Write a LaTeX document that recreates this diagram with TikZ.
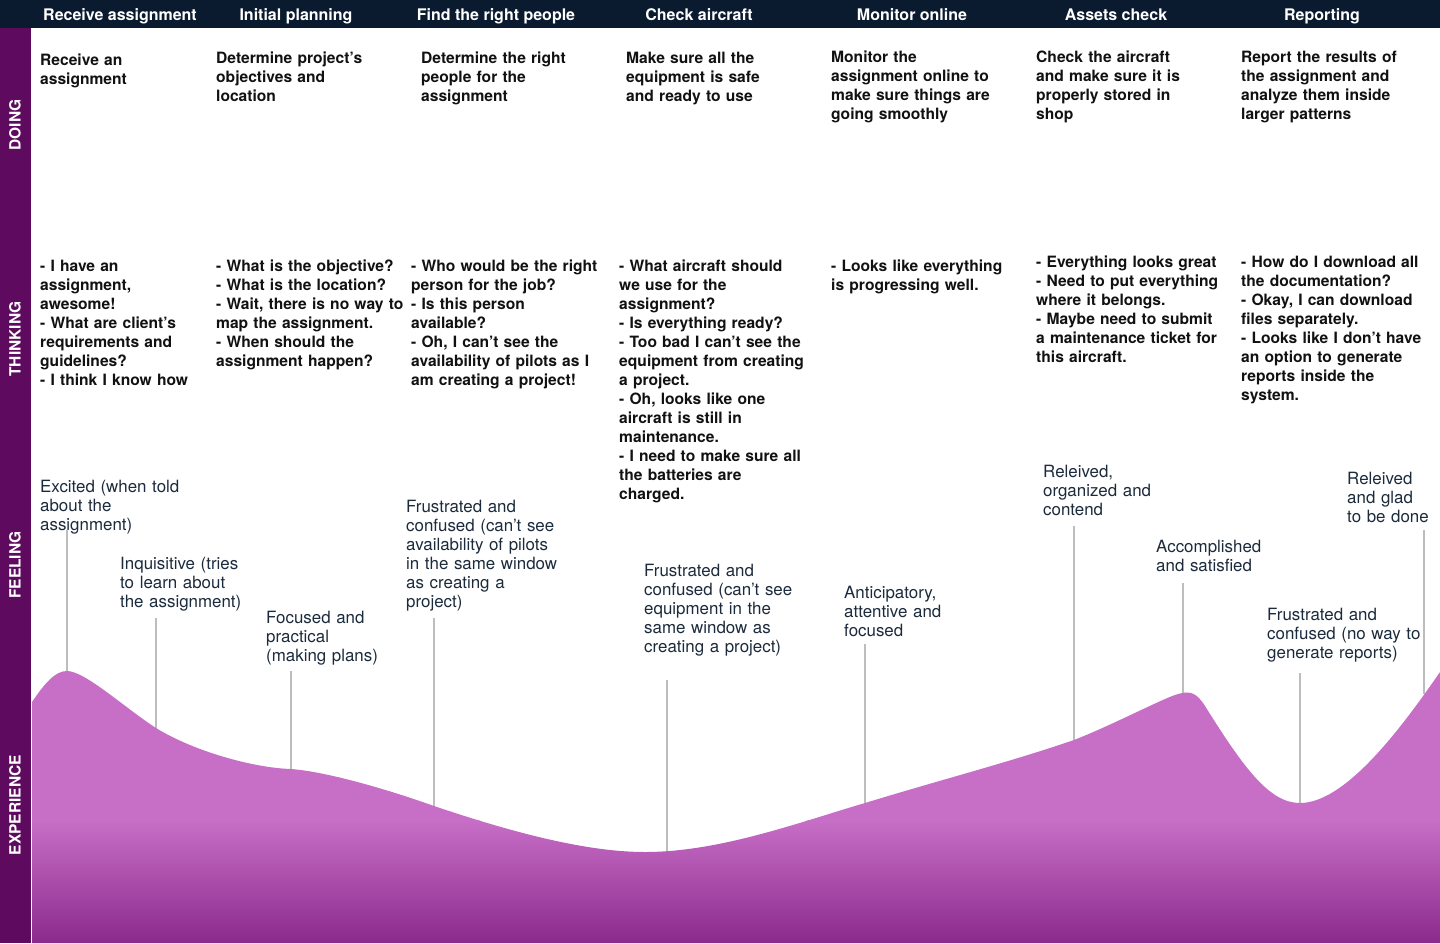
\documentclass[tikz,border=0pt]{standalone}
\usepackage{fontspec}
\setmainfont{TeX Gyre Heros}
\definecolor{hdrbg}{HTML}{0B1B2F}
\definecolor{sidebg}{HTML}{5E0B5F}
\definecolor{curvelight}{HTML}{C76EC6}
\definecolor{curvedark}{HTML}{8B2B8D}
\definecolor{linegray}{HTML}{BDBDBD}
\definecolor{feeltxt}{HTML}{1C2B3C}
\definecolor{bodytxt}{HTML}{111111}
\begin{document}
\begin{tikzpicture}[x=1pt,y=-1pt,
  hdr/.style={text=white,font=\bfseries\fontsize{16}{19}\selectfont,anchor=base,inner sep=0pt},
  side/.style={text=white,font=\bfseries\fontsize{15.5}{18}\selectfont,rotate=90,inner sep=0pt},
  body/.style={anchor=base west,align=left,text width=230pt,inner sep=0pt,text=bodytxt,font=\bfseries\fontsize{15.6}{19}\selectfont},
  feel/.style={anchor=base west,align=left,text width=230pt,inner sep=0pt,text=feeltxt,font=\fontsize{16.9}{19}\selectfont},
  conn/.style={draw=linegray,line width=1.4pt}]
\useasboundingbox (0,0) rectangle (1440,943);
\fill[white] (0,0) rectangle (1440,943);
% header and sidebar
\fill[hdrbg] (0,0) rectangle (1440,28);
\fill[sidebg] (0,28) rectangle (31,943);
\node[side] (sdoing) at (15,125) {DOING};
\node[side] (sthink) at (15,339) {THINKING};
\node[side] (sfeel) at (15,565) {FEELING};
\node[side] (sexp) at (15,805) {EXPERIENCE};
% header titles
\node[hdr] (h1) at (120,20) {Receive assignment};
\node[hdr] (h2) at (296,20) {Initial planning};
\node[hdr] (h3) at (496,20) {Find the right people};
\node[hdr] (h4) at (699,20) {Check aircraft};
\node[hdr] (h5) at (912,20) {Monitor online};
\node[hdr] (h6) at (1116,20) {Assets check};
\node[hdr] (h7) at (1322,20) {Reporting};
% doing
\node[body] (d1) at (40,65) {Receive an\\assignment};
\node[body] (d2) at (216,63) {Determine project’s\\objectives and\\location};
\node[body] (d3) at (421,63) {Determine the right\\people for the\\assignment};
\node[body] (d4) at (626,63) {Make sure all the\\equipment is safe\\and ready to use};
\node[body] (d5) at (831,62) {Monitor the\\assignment online to\\make sure things are\\going smoothly};
\node[body] (d6) at (1036,62) {Check the aircraft\\and make sure it is\\properly stored in\\shop};
\node[body] (d7) at (1241,62) {Report the results of\\the assignment and\\analyze them inside\\larger patterns};
% thinking
\node[body] (t1) at (40,271) {- I have an\\assignment,\\awesome!\\- What are client’s\\requirements and\\guidelines?\\- I think I know how};
\node[body] (t2) at (216,271) {- What is the objective?\\- What is the location?\\- Wait, there is no way to\\map the assignment.\\- When should the\\assignment happen?};
\node[body] (t3) at (411,271) {- Who would be the right\\person for the job?\\- Is this person\\available?\\- Oh, I can’t see the\\availability of pilots as I\\am creating a project!};
\node[body] (t4) at (619,271) {- What aircraft should\\we use for the\\assignment?\\- Is everything ready?\\- Too bad I can’t see the\\equipment from creating\\a project.\\- Oh, looks like one\\aircraft is still in\\maintenance.\\- I need to make sure all\\the batteries are\\charged.};
\node[body] (t5) at (831,271) {- Looks like everything\\is progressing well.};
\node[body] (t6) at (1036,267) {- Everything looks great\\- Need to put everything\\where it belongs.\\- Maybe need to submit\\a maintenance ticket for\\this aircraft.};
\node[body] (t7) at (1241,267) {- How do I download all\\the documentation?\\- Okay, I can download\\files separately.\\- Looks like I don’t have\\an option to generate\\reports inside the\\system.};
% feeling labels
\node[feel] (f1) at (40,492) {Excited (when told\\about the\\assignment)};
\node[feel] (f2) at (120,569) {Inquisitive (tries\\to learn about\\the assignment)};
\node[feel] (f3) at (266,623) {Focused and\\practical\\(making plans)};
\node[feel] (f4) at (406,512) {Frustrated and\\confused (can’t see\\availability of pilots\\in the same window\\as creating a\\project)};
\node[feel] (f5) at (644,576) {Frustrated and\\confused (can’t see\\equipment in the\\same window as\\creating a project)};
\node[feel] (f6) at (844,598) {Anticipatory,\\attentive and\\focused};
\node[feel] (f7) at (1043,477) {Releived,\\organized and\\contend};
\node[feel] (f8) at (1156,552) {Accomplished\\and satisfied};
\node[feel] (f9) at (1267,620) {Frustrated and\\confused (no way to\\generate reports)};
\node[feel] (f10) at (1347,484) {Releived\\and glad\\to be done};
% connector ends
\coordinate (a1) at (67,530);   \coordinate (b1) at (67,675);
\coordinate (a2) at (156,618);  \coordinate (b2) at (156,732);
\coordinate (a3) at (291,671);  \coordinate (b3) at (291,773);
\coordinate (a4) at (434,618);  \coordinate (b4) at (434,810);
\coordinate (a5) at (667,680);  \coordinate (b5) at (667,854);
\coordinate (a6) at (865,644);  \coordinate (b6) at (865,807);
\coordinate (a7) at (1074,526); \coordinate (b7) at (1074,744);
\coordinate (a8) at (1183,583); \coordinate (b8) at (1183,697);
\coordinate (a9) at (1300,673); \coordinate (b9) at (1300,807);
\coordinate (a10) at (1424,530); \coordinate (b10) at (1424,694);
\foreach \i in {1,...,10} \draw[conn] (a\i) -- (b\i);
% experience curve
\begin{scope}
\clip (32,702) .. controls (45,683) and (55,671) .. (67,671)
 .. controls (85,671) and (125,708) .. (156,728)
 .. controls (195,752) and (255,768) .. (291,769)
 .. controls (330,772) and (395,792) .. (434,806)
 .. controls (520,835) and (590,852) .. (645,852)
 .. controls (720,852) and (800,822) .. (865,803)
 .. controls (940,780) and (1010,762) .. (1074,740)
 .. controls (1110,726) and (1160,700) .. (1175,695)
 .. controls (1190,690) and (1196,692) .. (1205,706)
 .. controls (1245,770) and (1270,803) .. (1300,803)
 .. controls (1345,803) and (1400,730) .. (1440,672)
 -- (1440,943) -- (32,943) -- cycle;
\fill[curvelight] (32,600) rectangle (1440,821);
\shade[top color=curvelight,bottom color=curvedark] (32,820) rectangle (1440,943);
\end{scope}
\end{tikzpicture}
\end{document}
